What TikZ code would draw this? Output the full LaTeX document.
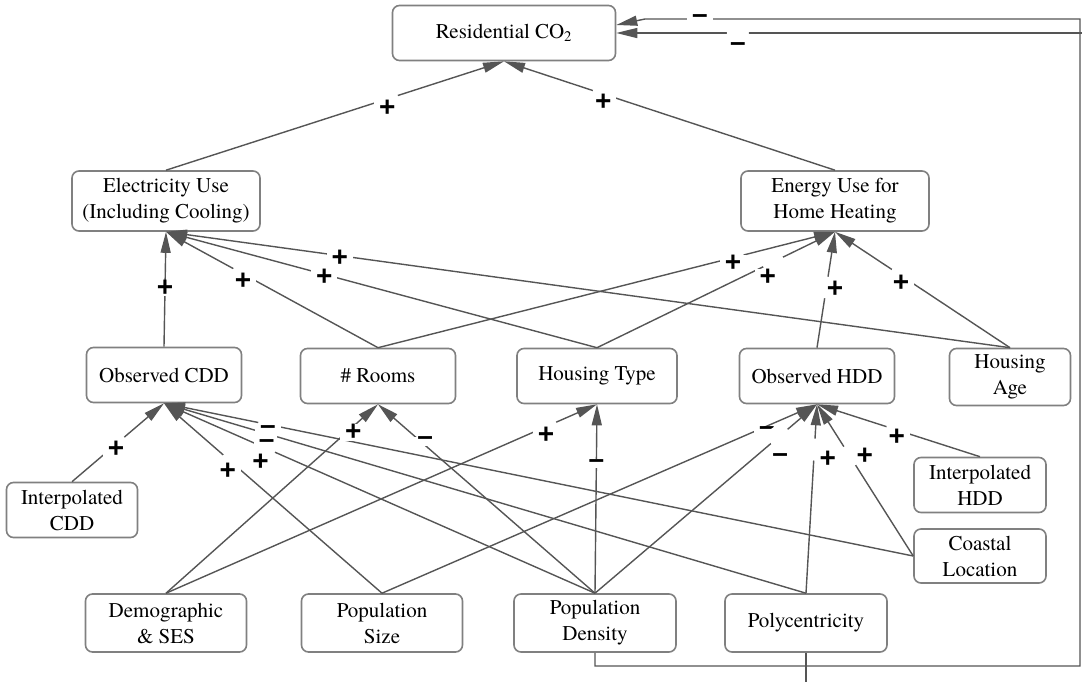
\documentclass[tikz,border=0pt]{standalone}
\usepackage{fontspec}
\IfFontExistsTF{texgyretermes-regular.otf}
  {\setmainfont{texgyretermes-regular.otf}
   \newfontfamily\varfont{texgyretermes-regular.otf}}
  {\setmainfont{Liberation Serif}
   \newfontfamily\varfont{Liberation Serif}}
\newfontfamily\signfont{Liberation Sans}
\usetikzlibrary{arrows.meta}

\definecolor{boxgray}{HTML}{808080}
\definecolor{linegray}{HTML}{555555}

\tikzset{
  var/.style={draw=boxgray, line width=1.6pt, rounded corners=7pt, fill=white,
    align=center, inner sep=2pt, font=\varfont\fontsize{21}{26}\selectfont},
  link/.style={draw=linegray, line width=1.4pt,
    -{Triangle[length=21pt,width=10pt]}},
  sign/.style={fill=white, inner xsep=5pt, inner ysep=0pt, text=black,
    font=\signfont\bfseries\fontsize{28}{28}\selectfont},
  % white break in a link where its polarity sign sits beside it
  gap/.style={circle, fill=white, inner sep=0pt, minimum size=22pt},
}

\begin{document}
\begin{tikzpicture}[x=1pt, y=-1pt]
\useasboundingbox (0,0) rectangle (1082,681);
\clip (0,0) rectangle (1082,681);

% variables
\node[var, minimum width=223pt, minimum height=55pt] (co2) at (504,33) {Residential CO\textsubscript{2}};
\node[var, minimum width=188pt, minimum height=60pt] (elec) at (166,201) {Electricity Use\\(Including Cooling)};
\node[var, minimum width=188pt, minimum height=60pt] (energy) at (835,201) {Energy Use for\\Home Heating};
\node[var, minimum width=155pt, minimum height=55pt] (obscdd) at (164,375) {Observed CDD};
\node[var, minimum width=155pt, minimum height=55pt] (rooms) at (378,376) {\# Rooms};
\node[var, minimum width=160pt, minimum height=55pt] (htype) at (597,376) {Housing Type};
\node[var, minimum width=155pt, minimum height=55pt] (obshdd) at (817,376) {Observed HDD};
\node[var, minimum width=121pt, minimum height=57pt] (hage) at (1010,377) {Housing\\Age};
\node[var, minimum width=131pt, minimum height=55pt] (icdd) at (72,510) {Interpolated\\CDD};
\node[var, minimum width=132pt, minimum height=55pt] (ihdd) at (980,485) {Interpolated\\HDD};
\node[var, minimum width=132pt, minimum height=54pt] (coastal) at (980,556) {Coastal\\Location};
\node[var, minimum width=161pt, minimum height=58pt] (demo) at (166,623) {Demographic\\\& SES};
\node[var, minimum width=161pt, minimum height=58pt] (popsize) at (382,623) {Population\\Size};
\node[var, minimum width=162pt, minimum height=58pt] (popden) at (595,623) {Population\\Density};
\node[var, minimum width=162pt, minimum height=58pt] (poly) at (806,623) {Polycentricity};

% bends of the feedback links
\coordinate (pdlow) at (595,666);
\coordinate (pdright) at (1080,666);
\coordinate (pdtop) at (1080,19);
\coordinate (pdbend) at (645,19);
\coordinate (polylow) at (806,700);
\coordinate (polyright) at (1095,700);
\coordinate (polytop) at (1095,33);

% links into Residential CO2
\draw[link] (elec.north) -- node[gap, pos=.655] {} node[sign, pos=.655, yshift=-9pt] {+} (co2.south);
\draw[link] (energy.north) -- node[gap, pos=.7] {} node[sign, pos=.7, yshift=-8pt] {+} (co2.south);

% links into Electricity Use
\draw[link] (obscdd.north) -- node[sign, pos=.51] {+} (elec.south);
\draw[link] (rooms.north) -- node[gap, pos=.637] {} node[sign, pos=.637, yshift=-7pt] {+} (elec.south);
\draw[link] (htype.north) -- node[sign, pos=.633, yshift=-3pt] {+} (elec.south);
\draw[link] (hage.north) -- node[sign, pos=.794, yshift=-3pt] {+} (elec.south);

% links into Energy Use for Home Heating
\draw[link] (rooms.north) -- node[gap, pos=.777] {} node[sign, pos=.777, yshift=-6pt] {+} (energy.south);
\draw[link] (htype.north) -- node[gap, pos=.74] {} node[sign, pos=.718, yshift=-13pt] {+} (energy.south);
\draw[link] (obshdd.north) -- node[gap, pos=.52] {} node[sign, pos=.508, xshift=9pt] {+} (energy.south);
\draw[link] (hage.north) -- node[gap, pos=.623] {} node[sign, pos=.623, yshift=-8pt] {+} (energy.south);

% links into Observed CDD
\draw[link] (icdd.north) -- node[gap, pos=.478] {} node[sign, pos=.478, yshift=-5pt] {+} (obscdd.south);
\draw[link] (popsize.north) -- node[gap, pos=.69] {} node[sign, pos=.68, xshift=-6pt, yshift=-7.5pt] {+} (obscdd.south);
\draw[link] (popden.north) -- node[gap, pos=.766] {} node[sign, pos=.76, xshift=-7pt, yshift=-13pt] {+} (obscdd.south);
\draw[link] (poly.north) -- node[gap, pos=.84] {} node[sign, pos=.84, yshift=-10pt] {–} (obscdd.south);
\draw[link] (coastal.west) -- node[gap, pos=.86] {} node[sign, pos=.86, xshift=-1pt, yshift=-5pt] {–} (obscdd.south);

% links into # Rooms and Housing Type
\draw[link] (demo.north) -- node[sign, pos=.85, xshift=7pt] {+} (rooms.south);
\draw[link] (popden.north) -- node[sign, pos=.783, yshift=4pt] {–} (rooms.south);
\draw[link] (demo.north) -- node[gap, pos=.882] {} node[sign, pos=.882, yshift=-8.5pt] {+} (htype.south);
\draw[link] (popden.north) -- node[sign, pos=.686] {–} (htype.south);

% links into Observed HDD
\draw[link] (popsize.north) -- node[sign, pos=.885, yshift=-5pt] {–} (obshdd.south);
\draw[link] (popden.north) -- node[gap, pos=.83] {} node[sign, pos=.78, xshift=12pt, yshift=-12pt] {–} (obshdd.south);
\draw[link] (poly.north) -- node[gap, pos=.76] {} node[sign, pos=.71, xshift=14pt] {+} (obshdd.south);
\draw[link] (coastal.west) -- node[gap, pos=.66] {} node[sign, pos=.66, xshift=15pt] {+} (obshdd.south);
\draw[link] (ihdd.north) -- node[gap, pos=.51] {} node[sign, pos=.51, yshift=-7.5pt] {+} (obshdd.south);

% feedback links back to Residential CO2
\draw[link] (popden.south) -- (pdlow) -- (pdright) -- (pdtop)
  -- node[sign, pos=.874] {–} (pdbend) -- ([yshift=8pt]co2.east);
\draw[link] (poly.south) -- (polylow) -- (polyright) -- (polytop)
  -- node[gap, pos=.746] {} node[sign, pos=.746, yshift=-14pt] {–} (co2.east);
\end{tikzpicture}
\end{document}
